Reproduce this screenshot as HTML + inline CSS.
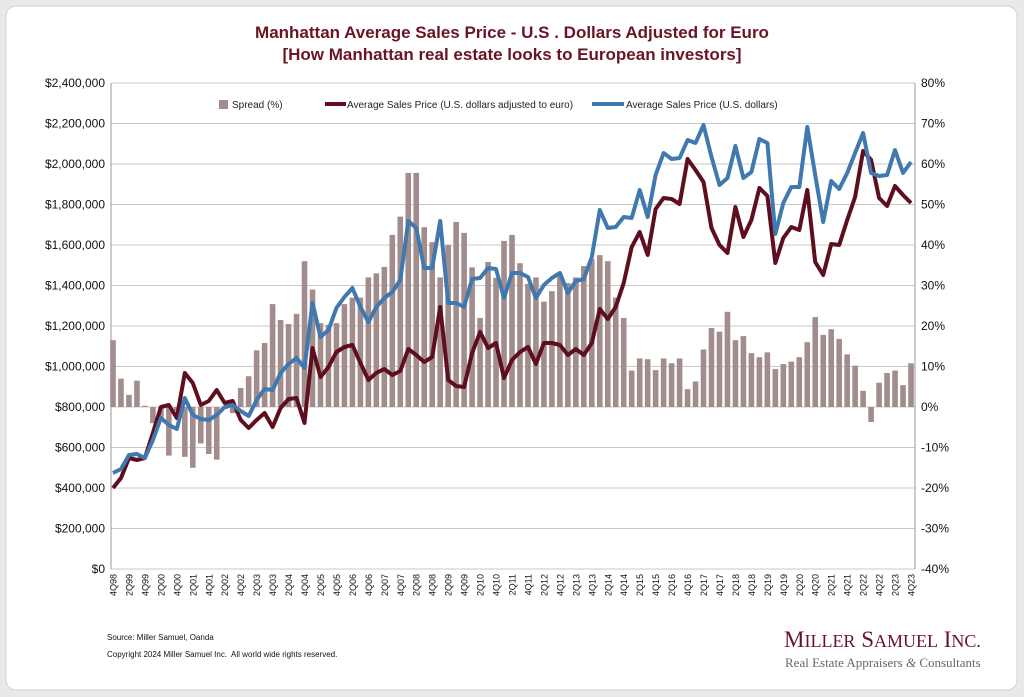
<!DOCTYPE html>
<html><head><meta charset="utf-8"><style>
body{margin:0;background:#e9e9e9;}
#c{position:relative;width:1024px;height:697px;overflow:hidden;font-family:"Liberation Sans",Arial,sans-serif;}
</style></head><body><div id="c">
<svg id="s" width="1024" height="697" xmlns="http://www.w3.org/2000/svg"></svg>
</div>
<script>
const s=document.getElementById('s');let h='';
h+='<rect x="6" y="6" width="1011" height="684" rx="10" fill="#fff" stroke="#d0d0d0"/>';
h+='<text x="512" y="38" text-anchor="middle" font-size="17" font-weight="bold" fill="#6b1424">Manhattan Average Sales Price - U.S . Dollars Adjusted for Euro</text>';
h+='<text x="512" y="60" text-anchor="middle" font-size="17" font-weight="bold" fill="#6b1424">[How Manhattan real estate looks to European investors]</text>';
const L=111,R=915,T=83,B=569;
for(let k=0;k<=12;k++){const y=T+k*40.5;h+=`<line x1="${L}" x2="${R}" y1="${y}" y2="${y}" stroke="#c8c8c8" stroke-width="1"/>`;
const v=2400000-k*200000;h+=`<text x="${L-6}" y="${y+4}" text-anchor="end" font-size="12" fill="#111">$${v.toLocaleString('en-US')}</text>`;
const p=80-k*10;h+=`<text x="${R+6}" y="${y+4}" font-size="12" fill="#111">${p}%</text>`;}
h+=`<line x1="${L}" x2="${L}" y1="${T}" y2="${B}" stroke="#999"/><line x1="${R}" x2="${R}" y1="${T}" y2="${B}" stroke="#999"/>`;
const bars=[16.5,7,3,6.5,0.3,-4,-3,-12,-1,-12.3,-15,-9,-11.6,-13,-0.5,-1.5,4.7,7.6,14,15.8,25.4,21.5,20.5,23,36,29,20.7,20.3,20.7,25.4,27,27,32,33,34.6,42.5,47,57.8,57.8,44.4,40.7,32,40,45.7,43,34.5,22,35.8,31.9,41,42.5,35.5,30.4,32,26,28.6,33,30.6,32,34.8,36.5,37.5,36,27,22,9,12,11.8,9.1,12,10.8,12,4.4,6.3,14.2,19.5,18.6,23.5,16.5,17.5,13.3,12.3,13.5,9.4,10.6,11.2,12.3,16,22.2,17.8,19.2,16.8,13,10.2,4,-3.7,6,8.4,9,5.4,10.8];
const X=i=>113+i*7.98,Z=407;
bars.forEach((b,i)=>{const y=Z-b*4.05;h+=`<rect x="${X(i)-2.8}" y="${Math.min(y,Z)}" width="5.6" height="${Math.abs(Z-y)}" fill="#a28c8c"/>`;});
const blue=[473,469,455,454,458,440,418,425,429,398,415,419,420,415,407,405,411,416,400,389,390,373,364,358,368,303,337,330,308,297,288,307,322,307,298,292,280,221,228,268,268,221,303,303,307,279,278,268,269,298,273,273,277,298,285,278,273,293,281,279,257,210,228,227,217,218,190,217,175,153,159,158,140,143,125,157,185,178,146,178,172,139,143,234,203,187,187,127,175,222,181,189,173,153,133,173,176,175,150,173,162];
const red=[488,478,458,460,458,433,407,405,418,373,383,405,401,390,403,401,420,428,420,413,427,408,399,398,423,348,377,367,352,347,345,363,380,373,369,375,371,349,355,362,357,307,380,386,387,353,332,348,343,378,360,352,347,364,343,343,345,355,349,355,343,309,319,307,283,247,232,255,209,198,199,204,159,170,182,228,245,253,207,237,220,188,196,263,238,227,230,190,262,275,244,245,220,197,151,160,198,206,186,195,203];
const pl=(a,c)=>`<polyline fill="none" stroke="${c}" stroke-width="4" stroke-linejoin="round" points="${a.map((y,i)=>X(i).toFixed(1)+','+y).join(' ')}"/>`;
h+=pl(red,'#5e0e1c');h+=pl(blue,'#4078b0');
for(let i=0;i<=100;i+=2){const q=(i%4==0)?'4Q':'2Q';const yr=(i%4==0)?98+i/4:99+(i-2)/4;const lbl=q+String(yr%100).padStart(2,'0');
h+=`<text transform="translate(${X(i)+3.5},574) rotate(-90)" text-anchor="end" font-size="9" fill="#111">${lbl}</text>`;}
h+='<rect x="219" y="100" width="9" height="9" fill="#a28c8c"/><text x="232" y="108" font-size="10" fill="#222">Spread (%)</text>';
h+='<line x1="325" x2="346" y1="104" y2="104" stroke="#5e0e1c" stroke-width="4"/><text x="347" y="108" font-size="10" fill="#222">Average Sales Price (U.S. dollars adjusted to euro)</text>';
h+='<line x1="592" x2="624" y1="104" y2="104" stroke="#4078b0" stroke-width="4"/><text x="626" y="108" font-size="10" fill="#222">Average Sales Price (U.S. dollars)</text>';
h+='<text x="107" y="640" font-size="8" fill="#111">Source: Miller Samuel, Oanda</text>';
h+='<text x="107" y="657" font-size="8" fill="#111" xml:space="preserve">Copyright 2024 Miller Samuel Inc.  All world wide rights reserved.</text>';
h+='<text x="784" y="647" font-family="Liberation Serif,serif" font-size="23" fill="#6b1424">M<tspan font-size="18">ILLER</tspan> S<tspan font-size="18">AMUEL</tspan> I<tspan font-size="18">NC.</tspan></text>';
h+='<text x="785" y="667" font-family="Liberation Serif,serif" font-size="13" fill="#666">Real Estate Appraisers <tspan font-style="italic">&amp;</tspan> Consultants</text>';
s.innerHTML=h;
</script></body></html>
